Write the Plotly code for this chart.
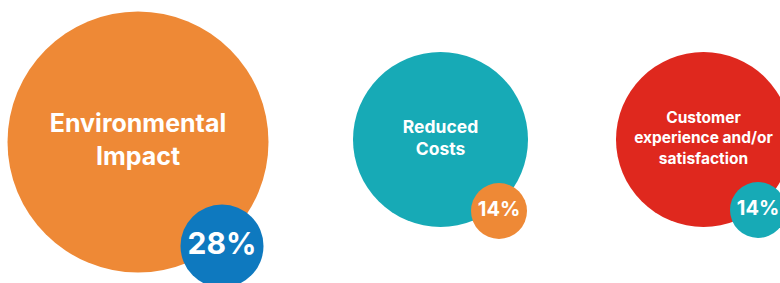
import plotly.graph_objects as go

# Data
categories = ["Environmental<br>Impact", "Reduced<br>Costs", "Customer<br>experience and/or<br>satisfaction"]
percent_values = [28, 14, 14]
percent_labels = ["28%", "14%", "14%"]

# Layout / style (pixel-based canvas)
W, H = 780, 283
big_x = [138, 440.5, 703.5]
big_y = [142, 139.5, 139.5]
big_d = [261, 175, 175]
big_colors = ["#EE8936", "#17AAB6", "#DF281E"]
big_font = [25, 17.5, 15.5]

small_x = [222, 499, 758]
small_y = [246, 211, 210]
small_d = [83, 56, 56]
small_colors = ["#0E79BF", "#EE8936", "#17AAB6"]
small_font = [30, 20, 20]

fig = go.Figure()

fig.add_trace(go.Scatter(
    x=big_x, y=[H - v for v in big_y], mode="markers+text",
    marker=dict(size=big_d, color=big_colors, line=dict(width=0), opacity=1),
    text=[f"<b>{c}</b>" for c in categories], textposition="middle center",
    textfont=dict(color="white", size=big_font, family="Inter"),
    hoverinfo="skip", cliponaxis=True,
))

fig.add_trace(go.Scatter(
    x=small_x, y=[H - v for v in small_y], mode="markers+text",
    marker=dict(size=small_d, color=small_colors, line=dict(width=0), opacity=1),
    text=[f"<b>{p}</b>" for p in percent_labels], textposition="middle center",
    textfont=dict(color="white", size=small_font, family="Inter"),
    hoverinfo="skip", cliponaxis=True,
))

fig.update_layout(
    width=W, height=H, margin=dict(l=0, r=0, t=0, b=0),
    paper_bgcolor="white", plot_bgcolor="white", showlegend=False,
    xaxis=dict(range=[0, W], visible=False, fixedrange=True),
    yaxis=dict(range=[0, H], visible=False, fixedrange=True),
)

fig.write_html(
    "out.html",
    config={"displayModeBar": False},
    post_script="document.body.style.margin='0';document.body.style.overflow='hidden';",
)
